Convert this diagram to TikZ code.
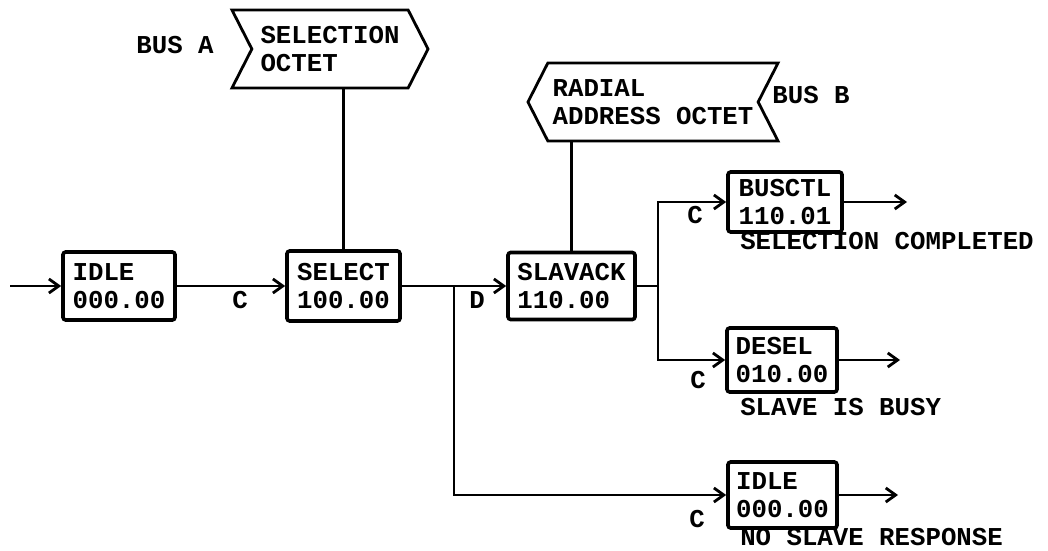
\documentclass[tikz,border=0pt]{standalone}
\usepackage{fontspec}
\setmonofont{Liberation Mono}
\usetikzlibrary{arrows.meta,positioning,shapes.symbols}

\begin{document}
\begin{tikzpicture}[x=0.025cm, y=-0.025cm,
    font=\ttfamily\bfseries\fontsize{18.3}{20}\selectfont,
    state/.style={draw, line width=2.6pt, rounded corners=2pt, align=left, inner sep=2pt,
      minimum width=2.8cm, minimum height=1.7cm},
    octet/.style={draw, line width=2pt, signal, signal pointer angle=126, align=left,
      inner sep=2pt, minimum height=1.95cm},
    wire/.style={line width=2pt},
    flow/.style={wire, -{Straight Barb[length=7pt,width=10pt]}}]

    \useasboundingbox (0,0) rectangle (1048,551);

    % Bus octets
    \node[octet, signal from=west, signal to=east, minimum width=4.9cm] (selocta) at (330,49) {SELECTION\\OCTET};
    \node (busa) at (175,45) {BUS A};
    \node[octet, signal from=east, signal to=west, minimum width=6.25cm] (radial) at (653,102) {RADIAL\\ADDRESS OCTET};
    \node (busb) at (811,95) {BUS B};

    % Main row
    \node[state] (idle) at (119,286) {IDLE\\000.00};
    \node[state, minimum width=2.825cm, minimum height=1.75cm] (select) at (343.5,286) {SELECT\\100.00};
    \node[state, minimum width=3.175cm, minimum height=1.675cm] (slavack) at (571.5,286) {SLAVACK\\110.00};

    % Exits
    \node[state, minimum width=2.85cm, minimum height=1.5cm] (busctl) at (785,202) {BUSCTL\\110.01};
    \node[state, minimum width=2.75cm, minimum height=1.6cm] (desel) at (782,360) {DESEL\\010.00};
    \node[state, minimum width=2.725cm, minimum height=1.65cm] (idleb) at (782.5,495) {IDLE\\000.00};
    \node[anchor=west, inner sep=0pt] (selcomp) at (740,241) {SELECTION COMPLETED};
    \node[anchor=west, inner sep=0pt] (busy) at (740,407) {SLAVE IS BUSY};
    \node[anchor=west, inner sep=0pt] (noresp) at (740,537) {NO SLAVE RESPONSE};

    % Conditions
    \node (c1) at (240,300) {C};
    \node (d1) at (477,300) {D};
    \node (c2) at (695,215) {C};
    \node (c3) at (698,380) {C};
    \node (c4) at (697,519) {C};

    \coordinate (start) at (10,286);
    \coordinate (j1) at (454,286);
    \coordinate (j2) at (658,286);
    \coordinate (out1) at (907,202);
    \coordinate (out2) at (900,360);
    \coordinate (out3) at (898,495);

    \draw[wire] (select.north) -- (select.north |- selocta.south);
    \draw[wire] (slavack.north) -- (slavack.north |- radial.south);
    \draw[flow] (start) -- (idle.west);
    \draw[flow] (idle.east) -- (select.west);
    \draw[flow] (select.east) -- (slavack.west);
    \draw[flow] (j1) |- (idleb.west);
    \draw[wire] (slavack.east) -- (j2);
    \draw[flow] (j2) |- (busctl.west);
    \draw[flow] (j2) |- (desel.west);
    \draw[flow] (busctl.east) -- (out1);
    \draw[flow] (desel.east) -- (out2);
    \draw[flow] (idleb.east) -- (out3);
\end{tikzpicture}
\end{document}
